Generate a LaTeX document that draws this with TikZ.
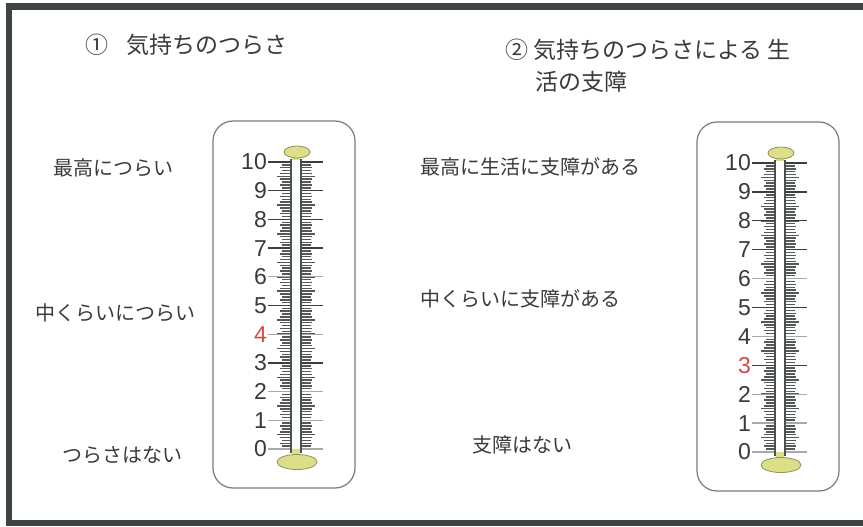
\documentclass[tikz,border=0pt]{standalone}
\usepackage{fontspec}
\setmainfont{Liberation Sans}
\newfontfamily\jpfont{Noto Sans CJK JP}

\definecolor{textgray}{HTML}{3A3A3A}
\definecolor{numred}{HTML}{D9473F}
\definecolor{framegray}{HTML}{3D4443}
\definecolor{boxgray}{HTML}{7A7A7A}
\definecolor{tickgray}{HTML}{545958}
\definecolor{majdark}{HTML}{3A3F3E}
\definecolor{majlight}{HTML}{A5A9A8}
\definecolor{tubeline}{HTML}{4A5251}
\definecolor{bulbfill}{HTML}{DCDF87}
\definecolor{bulbedge}{HTML}{8F9160}

\begin{document}
\begin{tikzpicture}[x=1pt,y=-1pt,
    labeltext/.style={anchor=west,inner sep=0pt,text=textgray,font=\jpfont\fontsize{20}{24}\selectfont},
    titletext/.style={labeltext,font=\jpfont\fontsize{23}{27}\selectfont},
    scalenum/.style={anchor=east,inner sep=0pt,text=textgray,font=\fontsize{23}{26}\selectfont},
    casebox/.style={draw=boxgray,line width=1.2pt,rounded corners=20pt},
    bulb/.style={fill=bulbfill,draw=bulbedge,line width=0.8pt}]
    \useasboundingbox (0,0) rectangle (863,527);
    \fill[white] (0,0) rectangle (863,527);
    \draw[framegray,line width=6.5pt] (875,6.5) -- (9,6.5) -- (9,523) -- (875,523);

    \node[titletext] (Title1) at (85,45) {①\hspace{18pt}気持ちのつらさ};
    \node[titletext] (Title2) at (505,50) {② 気持ちのつらさによる 生};
    \node[titletext] (Title2b) at (535,82) {活の支障};

    \node[labeltext] (Top1) at (53,168) {最高につらい};
    \node[labeltext] (Mid1) at (35,313) {中くらいにつらい};
    \node[labeltext] (Zero1) at (62,455) {つらさはない};
    \node[labeltext] (Top2) at (420,167) {最高に生活に支障がある};
    \node[labeltext] (Mid2) at (420,299) {中くらいに支障がある};
    \node[labeltext] (Zero2) at (472,445) {支障はない};

    % thermometers: name/centre/level 10/level 0/red number
    \foreach \t/\cx/\ytop/\ybot/\rednum in {a/296/162/449/4,b/780/163/452/3} {
        \pgfmathsetmacro\dy{(\ybot-\ytop)/10}
        \draw[casebox] (\cx-83,\ytop-41) rectangle (\cx+59,\ybot+39);
        % fine scale
        \foreach \j in {1,...,99} {
            \pgfmathsetmacro\yy{\ybot-\j*\dy/10}
            \pgfmathsetmacro\len{mod(\j,5)==0 ? 13 : (mod(\j,2)==0 ? 10 : 8.5)}
            \draw[tickgray,line width=1.5pt] (\cx-6,\yy) -- ++(-\len,0) (\cx+6,\yy) -- ++(\len,0);
        }
        % numbers
        \foreach \i/\mc in {0/majlight,1/majlight,2/majlight,3/majdark,4/majlight,5/majdark,6/majlight,7/majdark,8/majdark,9/majdark,10/majdark} {
            \pgfmathsetmacro\yy{\ybot-\i*\dy}
            \draw[\mc,line width=1.3pt] (\cx-28,\yy) -- (\cx+27,\yy);
            \node[scalenum] (\t\i) at (\cx-29,\yy) {\ifnum\i=\rednum\color{numred}\fi\i};
        }
        % tube and bulbs
        \fill[white] (\cx-5,\ytop-3) rectangle (\cx+5,\ybot+6);
        \fill[bulbfill] (\cx-4,\ybot) rectangle (\cx+4,\ybot+8);
        \draw[tubeline,line width=2pt] (\cx-5,\ytop-3) -- (\cx-5,\ybot+4) (\cx+5,\ytop-3) -- (\cx+5,\ybot+4);
        \draw[bulb] (\cx+1,\ybot+13) ellipse [x radius=20,y radius=7.5];
        \fill[bulbfill] (\cx-4,\ytop-8) rectangle (\cx+4,\ytop-2);
        \draw[bulb] (\cx+1,\ytop-10) ellipse [x radius=13,y radius=6];
    }
\end{tikzpicture}
\end{document}
